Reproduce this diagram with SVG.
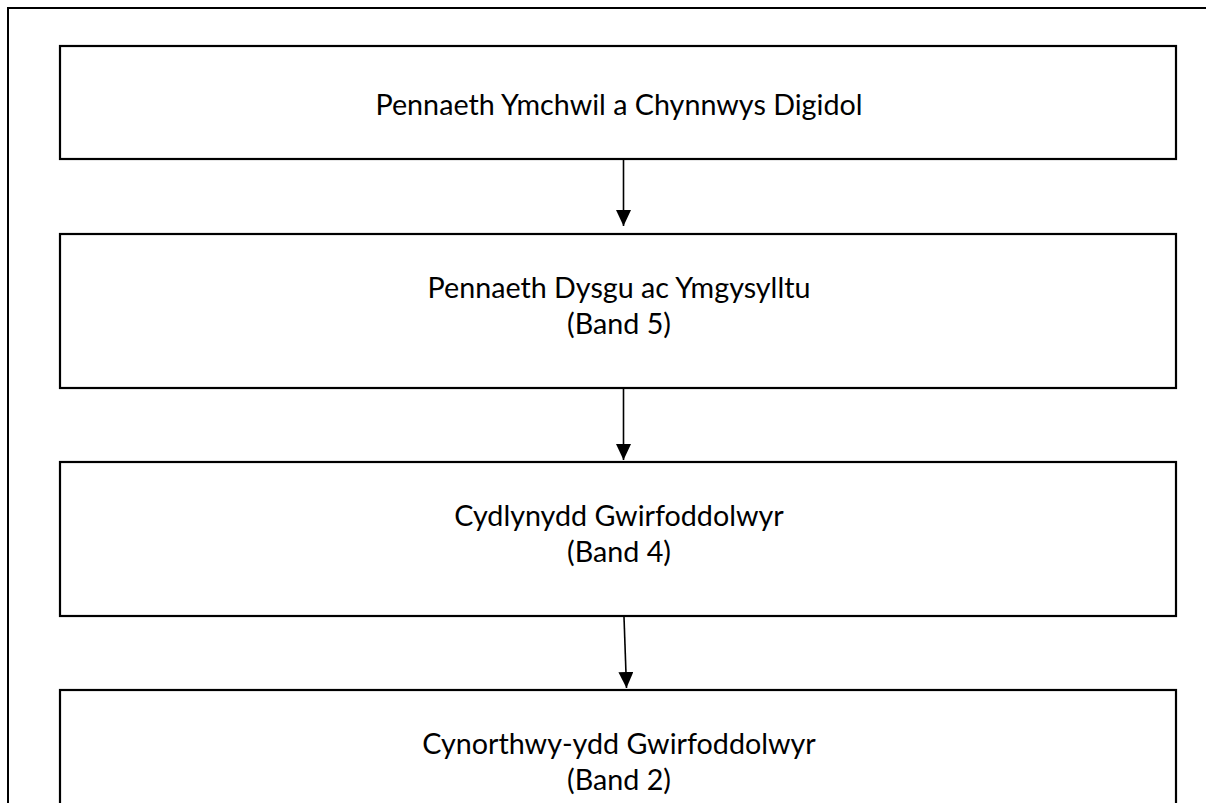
<svg xmlns="http://www.w3.org/2000/svg" width="1206" height="803" viewBox="0 0 1206 803">
<defs>
<style>
.frame{fill:none;stroke:#000;stroke-width:2}
.box{fill:#fff;stroke:#000;stroke-width:2.2}
.lbl{font-family:"Lato","Open Sans",sans-serif;font-size:28.7px;fill:#000;text-anchor:middle}
.conn{stroke:#000;stroke-width:1.6;fill:none}
</style>
<marker id="arr" markerWidth="16" markerHeight="15" refX="16" refY="7.5" orient="auto" markerUnits="userSpaceOnUse" viewBox="0 0 16 15">
<path d="M0,0 L16,7.5 L0,15 Z" fill="#000"/>
</marker>
</defs>
<rect width="1206" height="803" fill="#fff"/>
<rect class="frame" x="8" y="8" width="1220" height="820"/>
<g id="node1">
<rect class="box" x="60" y="46" width="1116" height="113"/>
<text class="lbl" x="619" y="115">Pennaeth Ymchwil a Chynnwys Digidol</text>
</g>
<g id="node2">
<rect class="box" x="60" y="234" width="1116" height="154"/>
<text class="lbl" x="619" y="298">Pennaeth Dysgu ac Ymgysylltu</text>
<text class="lbl" x="619" y="334">(Band 5)</text>
</g>
<g id="node3">
<rect class="box" x="60" y="462" width="1116" height="154"/>
<text class="lbl" x="619" y="526">Cydlynydd Gwirfoddolwyr</text>
<text class="lbl" x="619" y="562">(Band 4)</text>
</g>
<g id="node4">
<rect class="box" x="60" y="690" width="1116" height="160"/>
<text class="lbl" x="619" y="754">Cynorthwy-ydd Gwirfoddolwyr</text>
<text class="lbl" x="619" y="790">(Band 2)</text>
</g>
<g id="connectors">
<line class="conn" x1="623.5" y1="160" x2="623.5" y2="226" marker-end="url(#arr)"/>
<line class="conn" x1="623.5" y1="389" x2="623.5" y2="460" marker-end="url(#arr)"/>
<line class="conn" x1="624" y1="617" x2="626.5" y2="688" marker-end="url(#arr)"/>
</g>
</svg>
